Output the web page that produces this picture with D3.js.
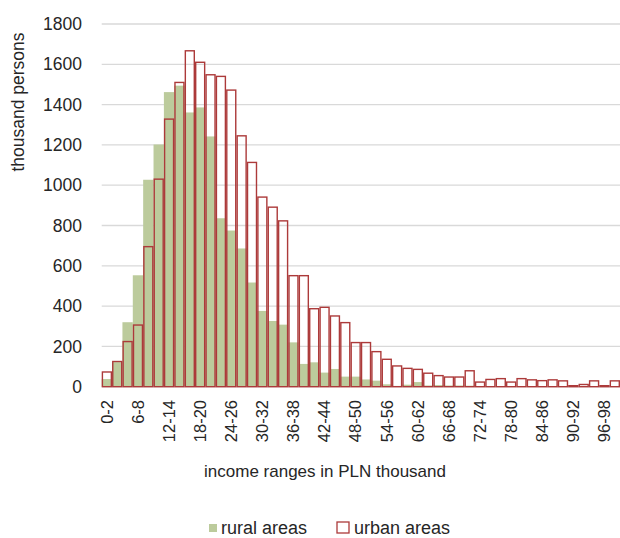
<!DOCTYPE html>
<html>
<head>
<meta charset="utf-8">
<script src="https://cdn.jsdelivr.net/npm/d3@7"></script>
<style>
  body { margin: 0; background: #fff; }
  text { font-family: "Liberation Sans", Arial, sans-serif; fill: #262626; }
</style>
</head>
<body>
<div id="chart"></div>
<script>
// income bins, 2k PLN wide
var bins = [];
for (var b = 0; b < 100; b += 2) bins.push(b + "-" + (b + 2));

var rural = [38, 122, 320, 553, 1027, 1202, 1462, 1494, 1361, 1386,
             1242, 836, 775, 686, 517, 376, 326, 308, 220, 113,
             121, 70, 88, 50, 50, 36, 30, 12, 4, 10,
             23, 6, 8, 6, 6, 5, 2, 2, 2, 2,
             2, 2, 1, 1, 1, 0, 1, 1, 0, 1];

var urban = [73, 125, 224, 306, 695, 1030, 1328, 1510, 1667, 1610,
             1548, 1540, 1472, 1245, 1113, 941, 891, 823, 551, 551,
             387, 394, 351, 318, 219, 219, 174, 136, 103, 91,
             86, 67, 55, 48, 48, 79, 23, 36, 40, 23,
             40, 34, 30, 34, 29, 5, 11, 29, 5, 29];

var yTicks = [0, 200, 400, 600, 800, 1000, 1200, 1400, 1600, 1800];

var W = 620, H = 538;
var m = {left: 101.7, right: 620, top: 24, bottom: 386.7};

var svg = d3.select("#chart").append("svg")
    .attr("width", W)
    .attr("height", H);

var x = d3.scaleBand()
    .domain(bins)
    .range([m.left, m.right])
    .padding(0);

var y = d3.scaleLinear()
    .domain([0, 1800])
    .range([m.bottom, m.top]);

// gridlines
svg.append("g")
    .selectAll("line")
    .data(yTicks)
    .join("line")
        .attr("x1", m.left)
        .attr("x2", m.right)
        .attr("y1", d => y(d))
        .attr("y2", d => y(d))
        .attr("stroke", "#d9d9d9")
        .attr("stroke-width", 1.3);

// y tick labels
svg.append("g")
    .selectAll("text")
    .data(yTicks)
    .join("text")
        .attr("x", 82)
        .attr("y", d => y(d))
        .attr("dy", "0.35em")
        .attr("text-anchor", "end")
        .attr("font-size", 17.5)
        .text(d => d);

// rural bars (filled)
svg.append("g")
    .attr("fill", "#bccb9c")
    .selectAll("rect")
    .data(rural)
    .join("rect")
        .attr("x", (d, i) => x(bins[i]))
        .attr("width", x.bandwidth())
        .attr("y", d => y(d))
        .attr("height", d => y(0) - y(d));

// urban bars (outline only)
svg.append("g")
    .attr("fill", "none")
    .attr("stroke", "#ac3a3a")
    .attr("stroke-width", 1.4)
    .selectAll("rect")
    .data(urban)
    .join("rect")
        .attr("x", (d, i) => x(bins[i]) + 0.7)
        .attr("width", x.bandwidth() - 1.4)
        .attr("y", d => y(d))
        .attr("height", d => y(0) - y(d));

// x tick labels, every third bin
svg.append("g")
    .selectAll("text")
    .data(bins.filter((d, i) => i % 3 === 0))
    .join("text")
        .attr("transform", d => "translate(" + (x(d) + x.bandwidth() / 2) + ",400) rotate(-90)")
        .attr("dy", "0.35em")
        .attr("text-anchor", "end")
        .attr("font-size", 16.5)
        .text(d => d);

// axis titles
svg.append("text")
    .attr("x", 325)
    .attr("y", 477)
    .attr("text-anchor", "middle")
    .attr("font-size", 17)
    .text("income ranges in PLN thousand");

svg.append("text")
    .attr("transform", "translate(24,102) rotate(-90)")
    .attr("text-anchor", "middle")
    .attr("font-size", 17.5)
    .text("thousand persons");

// legend
var legend = svg.append("g");
legend.append("rect")
    .attr("x", 209).attr("y", 524)
    .attr("width", 8).attr("height", 8)
    .attr("fill", "#bccb9c");
legend.append("text")
    .attr("x", 221).attr("y", 534)
    .attr("font-size", 18)
    .text("rural areas");
legend.append("rect")
    .attr("x", 337).attr("y", 522)
    .attr("width", 12).attr("height", 11)
    .attr("fill", "none")
    .attr("stroke", "#ac3a3a")
    .attr("stroke-width", 1.3);
legend.append("text")
    .attr("x", 354).attr("y", 534)
    .attr("font-size", 18)
    .text("urban areas");
</script>
</body>
</html>
